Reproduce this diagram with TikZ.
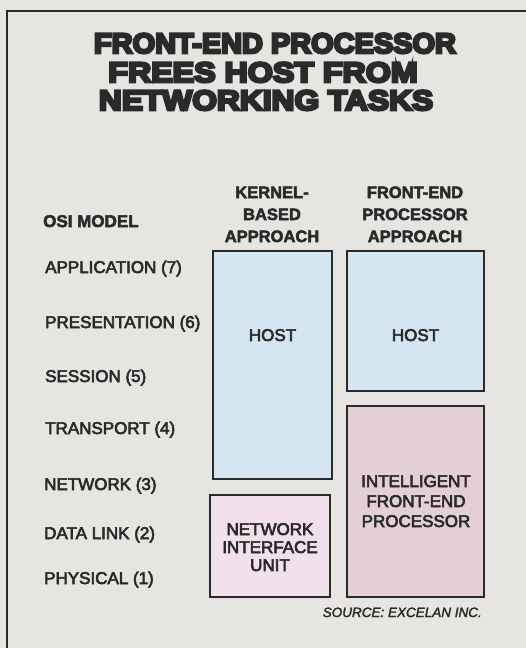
\documentclass[tikz,border=0pt]{standalone}
\usepackage{fontspec}
\usepackage{graphicx}
\setmainfont{Liberation Sans}
\newfontfamily\ttlfont{Liberation Sans}[BoldFeatures={FakeStretch=1.1}]
\definecolor{paper}{HTML}{E7E5E1}
\definecolor{ink}{HTML}{2A2A2A}
\definecolor{hostblue}{HTML}{D4E6F2}
\definecolor{niupink}{HTML}{F2E0EA}
\definecolor{feppink}{HTML}{E4CFD9}
\newcommand\emb[2]{\special{pdf:literal direct 2 Tr #1 w}#2\special{pdf:literal direct 0 Tr 1 w}}
\newcommand\ttlline[2]{\scalebox{#1}[1]{\emb{2.6}{#2}}}
\newcommand\med[1]{\emb{0.6}{#1}}
\newcommand\hvy[1]{\emb{0.5}{#1}}
\begin{document}
\begin{tikzpicture}[x=1pt,y=-1pt,
  ttl/.style={font=\ttlfont\bfseries\fontsize{28}{28}\selectfont, text=ink, anchor=base},
  lbl/.style={font=\fontsize{17}{17}\selectfont, text=ink, anchor=base west, inner sep=0pt},
  hdr/.style={font=\bfseries\fontsize{16.5}{21.5}\selectfont, text=ink, align=center, anchor=base, inner sep=0pt},
  box/.style={draw=ink, line width=1.3pt},
  boxtxt/.style={font=\fontsize{17}{19}\selectfont, text=ink, align=center, anchor=base, inner sep=0pt}]
\useasboundingbox (0,0) rectangle (526,648);
\fill[paper] (0,0) rectangle (526,648);
\draw[ink, line width=1.4pt] (7,650) -- (7,11) -- (528,11);
% title
\node[ttl] (t1) at (275,53) {\ttlline{0.94}{FRONT-END PROCESSOR}};
\node[ttl] (t2) at (263,82) {\ttlline{1.045}{FREES HOST FROM}};
\node[ttl] (t3) at (266,110) {\ttlline{1.03}{NETWORKING TASKS}};
% headers
\node[font=\bfseries\fontsize{17}{17}\selectfont, text=ink, anchor=base west, inner sep=0pt] (osi) at (43,227) {\hvy{OSI MODEL}};
\node[hdr] (hk1) at (272,198) {\hvy{KERNEL-}};
\node[hdr] (hk2) at (272,220) {\hvy{BASED}};
\node[hdr] (hk3) at (272,242) {\hvy{APPROACH}};
\node[hdr] (hf1) at (415,198) {\hvy{FRONT-END}};
\node[hdr] (hf2) at (415,220) {\hvy{PROCESSOR}};
\node[hdr] (hf3) at (415,242) {\hvy{APPROACH}};
% layers
\node[lbl] (l7) at (45,273) {\med{APPLICATION (7)}};
\node[lbl] (l6) at (45,328) {\med{PRESENTATION (6)}};
\node[lbl] (l5) at (45,382) {\med{SESSION (5)}};
\node[lbl] (l4) at (45,434) {\med{TRANSPORT (4)}};
\node[lbl] (l3) at (44,490) {\med{NETWORK (3)}};
\node[lbl] (l2) at (44,539) {\med{DATA LINK (2)}};
\node[lbl] (l1) at (44,584) {\med{PHYSICAL (1)}};
% boxes
\draw[box, fill=hostblue] (213,251) rectangle (332,479);
\draw[box, fill=hostblue] (347,251) rectangle (484,391);
\draw[box, fill=niupink] (210,495) rectangle (330,597);
\draw[box, fill=feppink] (347,406) rectangle (484,597);
\node[boxtxt] (h1) at (272.5,341) {\med{HOST}};
\node[boxtxt] (h2) at (415.5,341) {\med{HOST}};
\node[boxtxt] (niu1) at (270,535) {\med{NETWORK}};
\node[boxtxt] (niu2) at (270,553) {\med{INTERFACE}};
\node[boxtxt] (niu3) at (270,571) {\med{UNIT}};
\node[boxtxt] (fe1) at (416,487) {\med{INTELLIGENT}};
\node[boxtxt] (fe2) at (416,507) {\med{FRONT-END}};
\node[boxtxt] (fe3) at (416,527) {\med{PROCESSOR}};
\node[font=\fontsize{13.5}{13.5}\selectfont\itshape, text=ink, anchor=base east, inner sep=0pt] (src) at (482,617) {\emb{0.3}{SOURCE: EXCELAN INC.}};
\end{tikzpicture}
\end{document}
